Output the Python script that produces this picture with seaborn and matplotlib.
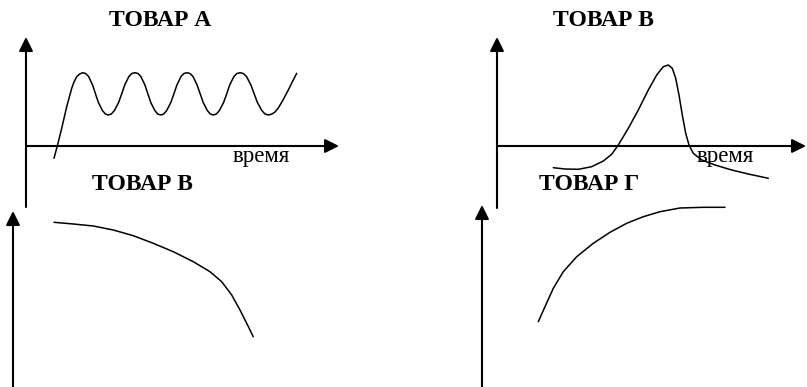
import matplotlib
matplotlib.use("Agg")
import matplotlib.pyplot as plt
import seaborn as sns
import pandas as pd

# ---- data (sketch curves, units: time vs. sales) ----
a_time = [28, 31.3, 35.7, 40.7, 45.7, 48.2, 50.7, 53.7, 56.7,
          59.6, 62.6, 66.6, 69.5, 72.4, 76.4, 79.4, 82.3,
          85.4, 88.4, 92.6, 95.7, 98.7, 102.9, 105.9, 109,
          112, 114.9, 118.9, 121.9, 124.8, 128.8, 131.7, 134.7,
          137.7, 140.7, 144.8, 147.9, 150.9, 155, 158, 161,
          164, 167, 171.1, 174.2, 177.2, 181.3, 184.3, 187.3,
          190.4, 193.4, 197.6, 200.7, 203.7, 207.9, 210.9, 214,
          217.3, 220.5, 224.9, 228.2, 231.4, 235.8, 239, 242.3,
          246, 249, 252.3, 257, 262.3, 266.5, 270.7]
a_sales = [-12.3, 0, 17.7, 39.3, 57.7, 64.5, 69.3, 72, 73.3,
           72.5, 69.5, 61, 52.1, 43.5, 35.5, 32, 31,
           32, 35.5, 43.5, 52.1, 61, 69.5, 72.5, 73.3,
           72.5, 69.5, 61, 52.1, 43.5, 35.5, 32, 31,
           32, 35.5, 43.5, 52.1, 61, 69.5, 72.5, 73.3,
           72.5, 69.5, 61, 52.1, 43.5, 35.5, 32, 31,
           32, 35.5, 43.5, 52.1, 61, 69.5, 72.5, 73.3,
           72.5, 69.5, 61, 52.1, 43.5, 35.5, 32, 31,
           32, 34, 38, 46, 56, 64.5, 72.7]

b_time = [56.3, 68, 81.3, 94.7, 106.3, 114.7, 121.3, 131.3, 141.3, 151.3, 159.7, 166.3,
          171.3, 175.3, 178.7, 182, 185.3, 188.7, 192, 196.3, 204.7, 218, 234.7, 251.3, 271.3]
b_sales = [-21.7, -23, -23.3, -20.7, -15, -8.3, 1, 17.7, 36, 56, 71, 79.3,
           81, 77.7, 67.7, 51, 31, 12.7, 1, -7.3, -14, -19, -24, -28, -32.3]

v_time = [41, 60.3, 80.3, 100.3, 120.3, 140.3, 160.3, 180.3, 197, 208.7, 218.7, 227, 233.7, 240.3]
v_sales = [164.7, 163, 161, 157, 151.3, 143.7, 135.3, 125.3, 115.3, 105.3, 92, 77, 63.7, 50.3]

g_time = [56.3, 63, 71.3, 81.3, 94.7, 111.3, 128, 144.7, 161.3, 178, 198, 221.3, 243]
g_sales = [65.3, 80.3, 98.7, 115.3, 130.3, 143.7, 154.7, 163.7, 170.3, 175.3, 179, 179.7, 179.7]

titles = ["ТОВАР А", "ТОВАР В", "ТОВАР В", "ТОВАР Г"]
xlabel = "время"

# ---- figure ----
sns.set_theme(style="white")
plt.rcParams["font.family"] = ["Liberation Serif", "DejaVu Serif"]
plt.rcParams["text.color"] = "black"

W, H = 807, 387
fig = plt.figure(figsize=(W / 100, H / 100), dpi=100)


def add_ax(x0, x1, y_top, y_bot):
    return fig.add_axes([x0 / W, 1 - y_bot / H, (x1 - x0) / W, (y_bot - y_top) / H])


arrow = dict(arrowstyle="-|>,head_length=0.4,head_width=0.2", color="black",
             lw=1.5, mutation_scale=21, shrinkA=0, shrinkB=0)

panels = [
    # rect (px), xlim, ylim, has x-axis, data
    ((26, 339, 37, 207), (0, 313), (-61, 109), True, a_time, a_sales),
    ((497, 806, 37, 208), (0, 309), (-62, 109), True, b_time, b_sales),
    ((13, 400, 211, 390), (0, 387), (-3, 176), False, v_time, v_sales),
    ((482, 807, 205, 390), (0, 325), (-3, 182), False, g_time, g_sales),
]

for (rect, xl, yl, has_x, xs, ys) in panels:
    ax = add_ax(*rect)
    df = pd.DataFrame({"t": xs, "s": ys})
    sns.lineplot(data=df, x="t", y="s", ax=ax, color="black", lw=1.1,
                 sort=False, estimator=None)
    ax.set_xlim(*xl)
    ax.set_ylim(*yl)
    ax.set_axis_off()
    ax.patch.set_alpha(0)
    # y axis arrow
    ax.annotate("", xy=(0, 1), xytext=(0, 0), xycoords="axes fraction",
                textcoords="axes fraction", arrowprops=arrow, annotation_clip=False)
    if has_x:
        tr = ax.get_yaxis_transform()
        ax.annotate("", xy=(1, 0), xytext=(0, 0), xycoords=tr, textcoords=tr,
                    arrowprops=arrow, annotation_clip=False)


def ftext(x, y, s, **kw):
    fig.text(x / W, 1 - y / H, s, color="black", **kw)


tkw = dict(ha="center", va="baseline", fontsize=17, fontweight="bold")
ftext(160, 26.5, titles[0], **tkw)
ftext(603.5, 26.5, titles[1], **tkw)
ftext(142, 190, titles[2], **tkw)
ftext(589, 190, titles[3], **tkw)
ftext(232.5, 162, xlabel, ha="left", va="baseline", fontsize=16.5)
ftext(697, 162, xlabel, ha="left", va="baseline", fontsize=16.5)

fig.savefig("out.png", dpi=100)
